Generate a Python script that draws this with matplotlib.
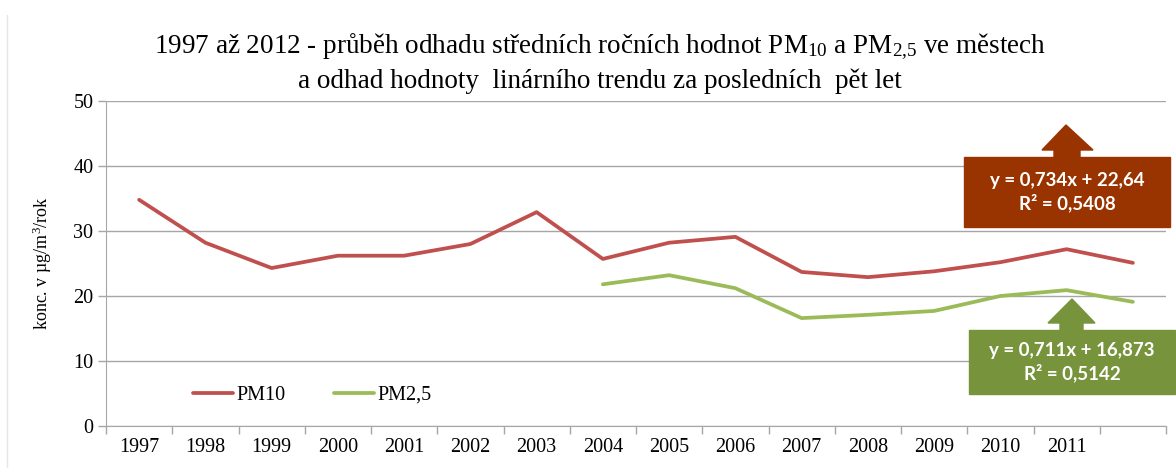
import matplotlib
matplotlib.use("Agg")
import matplotlib.pyplot as plt
from matplotlib.patches import Polygon, Rectangle
from matplotlib.lines import Line2D

# data
years = list(range(1997, 2013))
year_labels = [str(y) for y in years[:-1]] + [""]
pm10 = [34.8, 28.2, 24.3, 26.2, 26.2, 28.0, 32.9, 25.7, 28.2, 29.1,
        23.7, 22.9, 23.8, 25.2, 27.2, 25.1]
pm25_years = list(range(2004, 2013))
pm25 = [21.8, 23.2, 21.2, 16.6, 17.1, 17.7, 20.0, 20.9, 19.1]
trend_pm10 = "y = 0,734x + 22,64\nR² = 0,5408"
trend_pm25 = "y = 0,711x + 16,873\nR² = 0,5142"

plt.rcParams["font.family"] = ["Liberation Serif", "DejaVu Serif"]
plt.rcParams["mathtext.fontset"] = "custom"
plt.rcParams["mathtext.rm"] = "Liberation Serif"
plt.rcParams["mathtext.it"] = "Liberation Serif:italic"

W, H = 1176, 468
fig = plt.figure(figsize=(W / 100, H / 100), dpi=100)
ax = fig.add_axes([106 / W, 42 / H, 1060 / W, 325 / H])

x = list(range(len(years)))
x25 = [years.index(y) for y in pm25_years]
ax.plot(x, pm10, color="#C0504D", lw=2.7, solid_capstyle="round", label="PM10")
ax.plot(x25, pm25, color="#9BBB59", lw=2.7, solid_capstyle="round", label="PM2,5")

ax.set_xlim(-0.5, len(years) - 0.5)
ax.set_ylim(0, 50)
ax.set_yticks(range(0, 51, 10))
ax.yaxis.grid(True, color="#A6A6A6", lw=1)
ax.set_axisbelow(True)
ax.set_xticks(x)
ax.set_xticklabels(year_labels, fontsize=14.5)
ax.set_xticks([i - 0.5 for i in range(len(years) + 1)], minor=True)
ax.tick_params(axis="x", which="major", length=0, pad=9)
ax.tick_params(axis="x", which="minor", length=6, color="#A6A6A6", width=1)
ax.tick_params(axis="y", length=6, color="#A6A6A6", width=1, labelsize=14.5, pad=3)
for s in ["top", "right"]:
    ax.spines[s].set_visible(False)
for s in ["left", "bottom"]:
    ax.spines[s].set_color("#A6A6A6")

ax.set_ylabel(r"konc. v µg/m$\mathregular{^3}$/rok", fontsize=13, labelpad=14)

leg = ax.legend(loc="lower left", bbox_to_anchor=(0.065, 0.01), ncol=2, frameon=False,
                fontsize=14.5, handlelength=2.0, handletextpad=0.15, columnspacing=2.4)

fig.text(600 / W, 1 - 47 / H,
         r"1997 až 2012 - průběh odhadu středních ročních hodnot PM$\mathregular{_{10}}$"
         r" a PM$\mathregular{_{2{,}5}}$ ve městech",
         ha="center", va="center", fontsize=19.5)
fig.text(600 / W, 1 - 81 / H,
         "a odhad hodnoty  linárního trendu za posledních  pět let",
         ha="center", va="center", fontsize=19.5)

# faint chart border on left
fig.add_artist(Line2D([7 / W, 7 / W], [1 - 15 / H, 0], color="#E6E6E6", lw=1))


def px(xp, yp):
    return (xp / W, 1 - yp / H)


def arrow_box(box, tip, head_y, head, shaft, color, text):
    x0, x1, y0, y1 = box
    pts = [px(shaft[0], y0), px(shaft[0], head_y), px(head[0], head_y), px(*tip),
           px(head[1], head_y), px(shaft[1], head_y), px(shaft[1], y0)]
    fig.add_artist(Polygon(pts, closed=True, color=color, transform=fig.transFigure))
    fig.add_artist(Rectangle(px(x0, y1), (x1 - x0) / W, (y1 - y0) / H,
                             color=color, transform=fig.transFigure))
    cx, cy = px((x0 + x1) / 2, (y0 + y1) / 2)
    fig.text(cx, cy, text, ha="center", va="center", color="white", fontsize=13.5,
             fontweight="bold", family=["Lato", "DejaVu Sans"], linespacing=1.3)


arrow_box((964, 1170, 157, 227), (1066, 125), 150, (1042, 1093), (1054, 1080),
          "#993300", trend_pm10)
arrow_box((969, 1175, 330, 394), (1072, 299), 323, (1048, 1095), (1060, 1083),
          "#77933C", trend_pm25)

fig.savefig("out.png", dpi=100)
